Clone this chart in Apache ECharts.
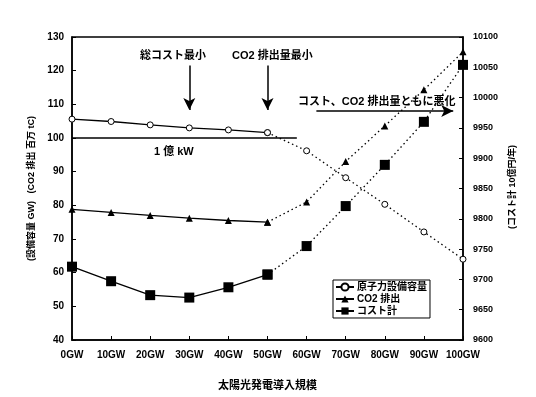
<!DOCTYPE html>
<html><head><meta charset="utf-8">
<script src="https://cdn.jsdelivr.net/npm/echarts@6/dist/echarts.min.js"></script>
<style>html,body{margin:0;padding:0;background:#fff}#c{width:536px;height:397px}</style>
</head><body><div id="c"></div>
<script>
// ---- data ----
const capacityGW = [0, 10, 20, 30, 40, 50, 60, 70, 80, 90, 100];
const nuclearCap = [105.6, 104.9, 103.9, 103.0, 102.4, 101.6, 96.2, 88.2, 80.3, 72.1, 64.0];
const co2Emission = [78.8, 77.9, 77.0, 76.2, 75.5, 75.0, 81.0, 93.0, 103.6, 114.3, 125.6];
const totalCost = [9721, 9697, 9674, 9670, 9687, 9708, 9755, 9821, 9889, 9960, 10054];
const leftTicks = {min: 40, max: 130, interval: 10};
const rightTicks = {min: 9600, max: 10100, interval: 50};
const seriesNames = ['原子力設備容量', 'CO2 排出', 'コスト計'];
const splitIndex = 5; // solid up to 50GW, dotted afterwards
const oneOkuKW = 100, oneOkuEndGW = 57.5;

const FONT = '"Liberation Sans", "Noto Sans CJK JP", sans-serif';
function solid(arr){ return capacityGW.map((x,i)=> i<=splitIndex ? [x, arr[i]] : [x, '-']); }
function dotted(arr){ return capacityGW.map((x,i)=> i>=splitIndex ? [x, arr[i]] : [x, '-']); }

const styles = [
  {symbol:'circle', symbolSize:6, itemStyle:{color:'#fff', borderColor:'#000', borderWidth:1}, yAxisIndex:0, data:nuclearCap},
  {symbol:'triangle', symbolSize:7, itemStyle:{color:'#000'}, yAxisIndex:0, data:co2Emission},
  {symbol:'rect', symbolSize:10, itemStyle:{color:'#000'}, yAxisIndex:1, data:totalCost}
];
const series = [];
styles.forEach((s,k)=>{
  series.push({type:'line', name:seriesNames[k], symbol:s.symbol, symbolSize:s.symbolSize, yAxisIndex:s.yAxisIndex,
    itemStyle:s.itemStyle, lineStyle:{color:'#000', width:1.3}, data:solid(s.data), animation:false, connectNulls:false});
  series.push({type:'line', name:seriesNames[k], symbol:s.symbol, symbolSize:s.symbolSize, yAxisIndex:s.yAxisIndex,
    itemStyle:s.itemStyle, lineStyle:{color:'#000', width:1.3, type:[1.5,3]}, data:dotted(s.data), animation:false});
});
// annotation lines
series.push({type:'line', name:'ann', data:[], yAxisIndex:0, animation:false,
  markLine:{silent:true, animation:false, label:{show:false},
    data:[
      [{coord:[0, oneOkuKW], symbol:'none'}, {coord:[oneOkuEndGW, oneOkuKW], symbol:'none'}],
      [{coord:[30, 121.5], symbol:'none'}, {coord:[30, 108.3], symbol:'arrow'}],
      [{coord:[50, 121.5], symbol:'none'}, {coord:[50, 108.3], symbol:'arrow'}],
      [{coord:[62.5, 108], symbol:'none'}, {coord:[97.5, 108], symbol:'arrow'}]
    ],
    symbolSize:[9,12], lineStyle:{color:'#000', width:1.5, type:'solid'}}
});

const chart = echarts.init(document.getElementById('c'), null, {renderer:'canvas'});
chart.setOption({
  animation:false,
  textStyle:{fontFamily:FONT},
  grid:{left:72, right:73, top:37, bottom:57, show:true, borderColor:'#000', borderWidth:1.5, backgroundColor:'transparent'},
  xAxis:{type:'value', min:0, max:100, interval:10,
    name:'太陽光発電導入規模', nameLocation:'middle', nameGap:40,
    nameTextStyle:{fontSize:11, fontWeight:'bold', color:'#000', fontFamily:FONT},
    axisLine:{lineStyle:{color:'#000', width:1.5}}, axisTick:{inside:true, length:4, lineStyle:{color:'#000'}},
    splitLine:{show:false},
    axisLabel:{formatter:v=>v+'GW', fontSize:10, fontWeight:'bold', color:'#000', margin:10, fontFamily:FONT}},
  yAxis:[
    {type:'value', min:leftTicks.min, max:leftTicks.max, interval:leftTicks.interval,
      name:'(設備容量 GW)   (CO2 排出 百万 tC)', nameLocation:'middle', nameGap:36,
      nameTextStyle:{fontSize:9, fontWeight:'bold', color:'#000', fontFamily:FONT},
      axisLine:{show:true, lineStyle:{color:'#000', width:1.5}}, axisTick:{show:true, inside:true, length:4, lineStyle:{color:'#000'}},
      splitLine:{show:false}, axisLabel:{fontSize:10, fontWeight:'bold', color:'#000', margin:8, fontFamily:FONT}},
    {type:'value', min:rightTicks.min, max:rightTicks.max, interval:rightTicks.interval, position:'right',
      axisLine:{show:true, lineStyle:{color:'#000', width:1.5}}, axisTick:{show:true, inside:true, length:4, lineStyle:{color:'#000'}},
      splitLine:{show:false}, axisLabel:{formatter:v=>String(v), fontSize:9, fontWeight:'bold', color:'#000', margin:10, fontFamily:FONT}}
  ],
  legend:{data:seriesNames, orient:'vertical', left:333, top:280, itemGap:2, itemWidth:18, itemHeight:9,
    borderColor:'#000', borderWidth:1, padding:[2,3,2,2], backgroundColor:'#fff',
    textStyle:{fontSize:10, fontWeight:'bold', color:'#000', fontFamily:FONT, padding:[0,0,0,-2]}},
  graphic:[
    {type:'text', left:140, top:50, style:{text:'総コスト最小', font:'bold 11px '+FONT, fill:'#000'}},
    {type:'text', left:232, top:50, style:{text:'CO2 排出量最小', font:'bold 11px '+FONT, fill:'#000'}},
    {type:'text', left:298, top:96, style:{text:'コスト、CO2 排出量ともに悪化', font:'bold 11px '+FONT, fill:'#000'}},
    {type:'text', left:154, top:146, style:{text:'1 億 kW', font:'bold 11px '+FONT, fill:'#000'}},
    {type:'text', x:513, y:187, rotation:Math.PI/2, style:{text:'(コスト計 10億円/年)', font:'bold 9px '+FONT, fill:'#000', align:'center', verticalAlign:'middle'}}
  ],
  series:series
});
</script></body></html>
